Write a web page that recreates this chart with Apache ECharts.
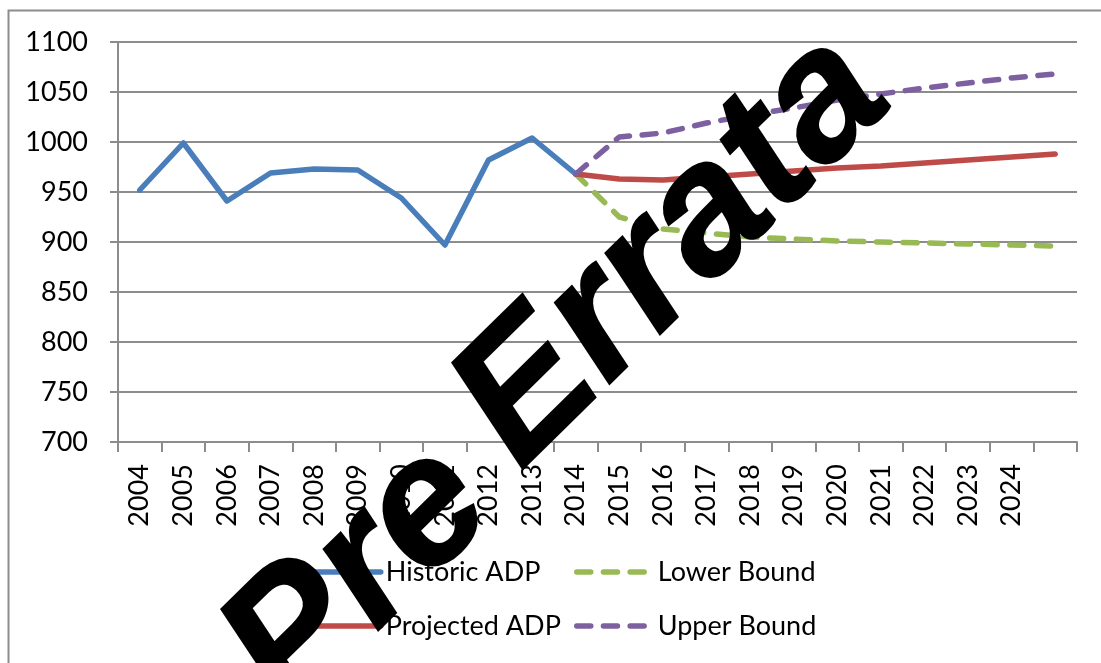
<!DOCTYPE html>
<html>
<head>
<meta charset="utf-8">
<script src="https://cdn.jsdelivr.net/npm/echarts@6/dist/echarts.min.js"></script>
<style>
  html, body { margin: 0; padding: 0; background: #fff; }
  #main { width: 1101px; height: 663px; }
</style>
</head>
<body>
<div id="main"></div>
<script>
// chart data
var years = ['2004', '2005', '2006', '2007', '2008', '2009', '2010', '2011', '2012', '2013', '2014',
    '2015', '2016', '2017', '2018', '2019', '2020', '2021', '2022', '2023', '2024', ''];
var historic = [952, 999, 941, 969, 973, 972, 944, 897, 982, 1004, 968,
    null, null, null, null, null, null, null, null, null, null, null];
var projected = [null, null, null, null, null, null, null, null, null, null, 968,
    963, 962, 965, 968, 971, 974, 976, 979, 982, 985, 988];
var lowerBound = [null, null, null, null, null, null, null, null, null, null, 968,
    925, 913, 909, 905, 903, 901, 900, 899, 898, 897, 896];
var upperBound = [null, null, null, null, null, null, null, null, null, null, 968,
    1005, 1009, 1019, 1027, 1034, 1042, 1048, 1054, 1059, 1064, 1068];

var mChart = echarts.init(document.getElementById('main'));

var font = 'Lato';
var gray = '#8c8c8c';
var dash = [14, 12.7];
var colors = {hist: '#4a7ebb', proj: '#be4b48', low: '#98b954', up: '#7d60a0'};

function lineSeries(name, data, color, dashed) {
    return {
        name: name,
        type: 'line',
        data: data,
        symbol: 'none',
        showSymbol: false,
        connectNulls: false,
        animation: false,
        z: 3,
        lineStyle: {
            color: color,
            width: 5.5,
            type: dashed ? dash : 'solid',
            cap: 'round',
            join: 'round'
        },
        itemStyle: {color: color}
    };
}

// legend entries: line only, the dot is hidden
function legendItem(name, dashed) {
    return {
        name: name,
        itemStyle: {opacity: 0},
        lineStyle: {width: 5.5, type: dashed ? dash : 'solid', cap: 'round'}
    };
}

// one word of the stamp, rotated about its own centre
function stamp(word, x, y) {
    return {
        type: 'text',
        x: x,
        y: y,
        rotation: 44.5 * Math.PI / 180,
        silent: true,
        z: 100,
        style: {
            text: word,
            fill: '#000',
            stroke: '#000',
            lineWidth: 2,
            font: 'italic bold 182px "Liberation Sans"',
            align: 'center',
            verticalAlign: 'middle'
        }
    };
}

var option = {
    backgroundColor: '#fff',
    animation: false,
    grid: {left: 118, right: 24, top: 42, bottom: 221, containLabel: false},
    xAxis: {
        type: 'category',
        data: years,
        boundaryGap: true,
        axisLine: {lineStyle: {color: gray, width: 2}},
        axisTick: {show: true, interval: 0, length: 10, lineStyle: {color: gray, width: 2}},
        axisLabel: {
            interval: 0,
            rotate: 90,
            margin: 22,
            color: '#000',
            fontFamily: font,
            fontSize: 27
        },
        splitLine: {show: false}
    },
    yAxis: {
        type: 'value',
        min: 700,
        max: 1100,
        interval: 50,
        axisLine: {show: true, lineStyle: {color: gray, width: 2}},
        axisTick: {show: true, length: 8, lineStyle: {color: gray, width: 2}},
        axisLabel: {
            color: '#000', fontFamily: font, fontSize: 27, margin: 30,
            formatter: function (v) { return '' + v; }
        },
        splitLine: {lineStyle: {color: gray, width: 2}}
    },
    legend: [{
        orient: 'vertical',
        left: 291,
        top: 552,
        itemWidth: 82,
        itemHeight: 14,
        itemGap: 24,
        textStyle: {color: '#000', fontFamily: font, fontSize: 27, lineHeight: 30},
        data: [legendItem('Historic ADP', false), legendItem('Projected ADP', false)]
    }, {
        orient: 'vertical',
        left: 569,
        top: 552,
        itemWidth: 70,
        itemHeight: 14,
        itemGap: 24,
        textStyle: {color: '#000', fontFamily: font, fontSize: 27, lineHeight: 30, padding: [0, 0, 0, 6]},
        data: [legendItem('Lower Bound', true), legendItem('Upper Bound', true)]
    }],
    graphic: [{
        type: 'rect',
        left: 6,
        top: 8,
        shape: {width: 1200, height: 800},
        style: {fill: null, stroke: gray, lineWidth: 2},
        silent: true,
        z: 1
    },
        stamp('Pre', 359, 579),
        stamp('Errata', 673, 251)
    ],
    series: [
        lineSeries('Historic ADP', historic, colors.hist, false),
        lineSeries('Lower Bound', lowerBound, colors.low, true),
        lineSeries('Projected ADP', projected, colors.proj, false),
        lineSeries('Upper Bound', upperBound, colors.up, true)
    ]
};
mChart.setOption(option);
</script>
</body>
</html>
